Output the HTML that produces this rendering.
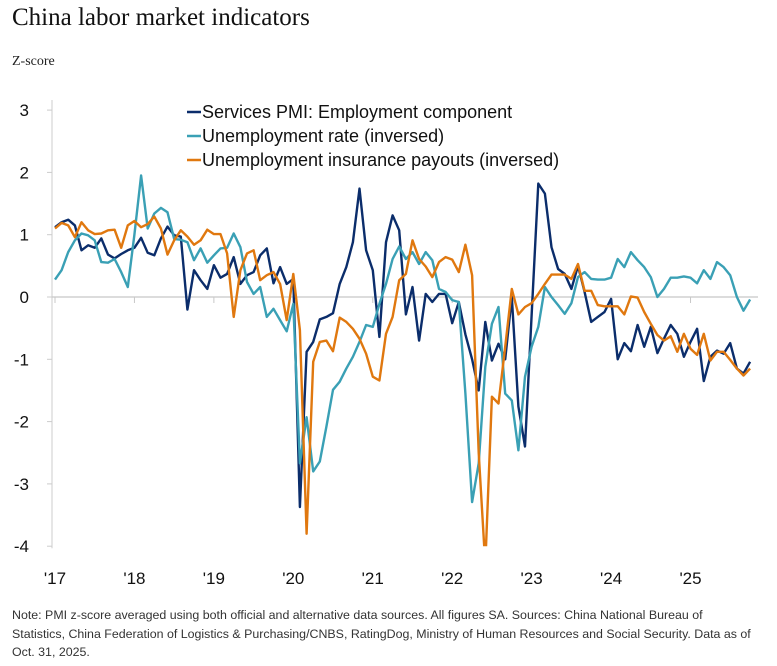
<!DOCTYPE html>
<html><head><meta charset="utf-8"><style>
body{margin:0;background:#fff;width:777px;height:666px;overflow:hidden;font-family:"Liberation Sans",sans-serif}
#title{position:absolute;left:12px;top:4px;font-family:"Liberation Serif",serif;font-size:25px;color:#111}
#unit{position:absolute;left:12px;top:54px;font-family:"Liberation Serif",serif;font-size:14px;color:#222}
#note{position:absolute;left:12px;top:606px;width:740px;font-size:12.4px;line-height:18.5px;color:#333}
svg{position:absolute;left:0;top:0}
</style></head><body>
<div id="title">China labor market indicators</div>
<div id="unit">Z-score</div>
<svg id="chart" width="777" height="600"></svg>
<div id="note">Note: PMI z-score averaged using both official and alternative data sources. All figures SA. Sources: China National Bureau of Statistics, China Federation of Logistics &amp; Purchasing/CNBS, RatingDog, Ministry of Human Resources and Social Security. Data as of Oct. 31, 2025.</div>
<script>
const yTicks=[3,2,1,0,-1,-2,-3,-4];
const xTickLabels=["'17","'18","'19","'20","'21","'22","'23","'24","'25"];
const seriesNames=["Services PMI: Employment component","Unemployment rate (inversed)","Unemployment insurance payouts (inversed)"];
const pmi=[1.12,1.2,1.24,1.15,0.75,0.83,0.79,0.94,0.68,0.62,0.69,0.75,
0.79,0.95,0.71,0.67,0.94,1.13,0.99,0.97,-0.2,0.43,0.27,0.13,
0.51,0.31,0.37,0.64,0.21,0.35,0.4,0.67,0.78,0.22,0.48,0.21,
0.29,-3.37,-0.88,-0.72,-0.36,-0.32,-0.26,0.21,0.48,0.88,1.74,0.75,
0.43,-0.64,0.88,1.31,1.07,-0.28,0.16,-0.7,0.05,-0.08,0.05,0.05,
-0.42,-0.08,-0.6,-1.0,-1.5,-0.4,-1.02,-0.75,-1.0,0.0,-1.76,-2.4,
-0.3,1.82,1.66,0.8,0.45,0.37,0.13,0.5,0.08,-0.4,-0.32,-0.24,
-0.03,-1.0,-0.74,-0.87,-0.45,-0.8,-0.48,-0.9,-0.67,-0.45,-0.59,-0.96,
-0.72,-0.51,-1.35,-0.96,-0.86,-0.91,-0.74,-1.15,-1.23,-1.04];
const unemp=[0.28,0.43,0.72,0.91,1.02,0.99,0.91,0.56,0.55,0.61,0.4,0.16,
1.0,1.95,1.1,1.34,1.43,1.36,0.93,0.92,0.88,0.59,0.78,0.55,
0.67,0.78,0.79,1.02,0.8,0.24,0.05,0.16,-0.32,-0.19,-0.37,-0.55,
-0.11,-2.67,-1.93,-2.8,-2.64,-2.08,-1.49,-1.36,-1.15,-0.96,-0.72,-0.45,
-0.48,-0.11,0.21,0.61,0.81,0.61,0.72,0.53,0.72,0.59,0.13,0.08,
-0.05,-0.08,-1.55,-3.29,-2.67,-1.12,-0.43,-0.16,-1.55,-1.66,-2.46,-1.28,
-0.8,-0.48,0.16,0,-0.13,-0.27,-0.1,0.32,0.4,0.29,0.28,0.28,
0.31,0.61,0.48,0.72,0.59,0.48,0.32,0,0.13,0.31,0.31,0.33,
0.31,0.22,0.43,0.29,0.56,0.48,0.35,0,-0.22,-0.04];
const payouts=[1.1,1.19,1.15,0.96,1.2,1.07,1.01,1.02,1.07,1.08,0.79,1.15,
1.22,1.12,1.17,1.29,1.1,0.68,0.91,1.07,0.97,0.84,0.91,1.08,
1.01,1.01,0.7,-0.32,0.43,0.7,0.75,0.27,0.35,0.4,0.21,-0.37,
0.37,-0.53,-3.8,-1.04,-0.72,-0.7,-0.87,-0.33,-0.4,-0.51,-0.67,-0.91,
-1.28,-1.34,-0.59,-0.32,0.27,0.37,0.91,0.61,0.49,0.32,0.56,0.64,
0.6,0.4,0.84,0.35,-2.5,-4.3,-1.6,-1.71,-0.8,0.13,-0.28,-0.16,
-0.1,0.05,0.21,0.36,0.36,0.36,0.29,0.53,0.1,0.1,-0.13,-0.15,
-0.15,-0.15,-0.28,0.01,-0.01,-0.24,-0.43,-0.61,-0.7,-0.63,-0.88,-0.59,
-0.83,-0.93,-0.59,-1.02,-0.88,-0.88,-1.01,-1.15,-1.26,-1.15];
const colors=["#0b2d6b","#3aa0b5","#e0780f"];
const NS="http://www.w3.org/2000/svg";
const svg=document.getElementById('chart');
const y=v=>297-v*62.3;
const x=m=>55+m*6.62;
function mk(t,a){const e=document.createElementNS(NS,t);for(const k in a)e.setAttribute(k,a[k]);svg.appendChild(e);return e;}
const defs=mk('defs',{});
const cp=document.createElementNS(NS,'clipPath');cp.setAttribute('id','clip');
const cr=document.createElementNS(NS,'rect');cr.setAttribute('x',50);cr.setAttribute('y',90);cr.setAttribute('width',720);cr.setAttribute('height',y(-4)-90);
cp.appendChild(cr);defs.appendChild(cp);
const ax=mk('line',{x1:52,y1:100,x2:52,y2:y(-4)+2,stroke:'#ccc','stroke-width':1});


yTicks.forEach(v=>{
 const t=mk('text',{x:29,y:y(v)+6,'text-anchor':'end','font-size':17,fill:'#111'});
 t.textContent=v;
 
 
 const tk=mk('line',{x1:47,x2:52,y1:y(v),y2:y(v),stroke:'#ccc'});
 
 
});
const zl=mk('line',{x1:52,x2:758,y1:y(0),y2:y(0),stroke:'#c8c8c8','stroke-width':1.2});


xTickLabels.forEach((l,i)=>{
 const t=mk('text',{x:x(i*12),y:584,'text-anchor':'middle','font-size':17,fill:'#111'});
 t.textContent=l;
 
 
 const tk=mk('line',{x1:x(i*12),x2:x(i*12),y1:y(0),y2:y(0)+6,stroke:'#c8c8c8'});
 
 
});
[pmi,unemp,payouts].forEach((s,i)=>{
 const d=s.map((v,m)=>(m?'L':'M')+x(m).toFixed(1)+' '+y(v).toFixed(1)).join(' ');
 const p=mk('path',{d:d,fill:'none',stroke:colors[i],'stroke-width':2.4,'stroke-linejoin':'round','clip-path':'url(#clip)'});
 
 
});
seriesNames.forEach((n,i)=>{
 const yy=112+i*24;
 const l=mk('line',{x1:187,x2:201,y1:yy,y2:yy,stroke:colors[i],'stroke-width':2.5});
 
 
 const t=mk('text',{x:202,y:yy+6,'font-size':18,fill:'#111'});
 t.textContent=n;
 
 
});
</script>
</body></html>
